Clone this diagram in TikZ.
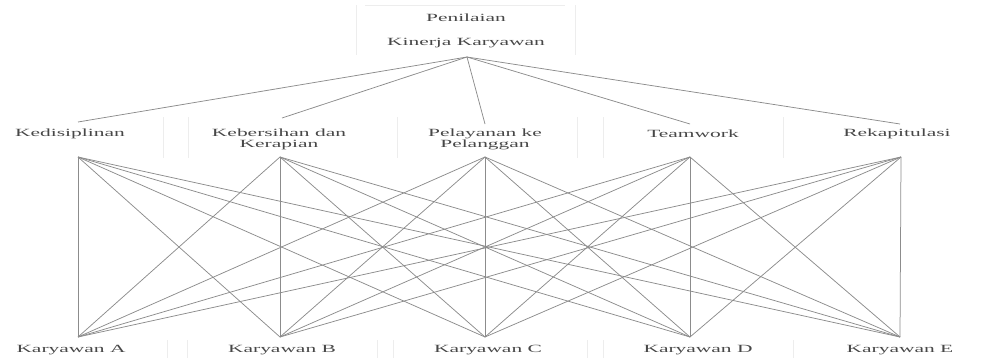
\documentclass[tikz,border=0pt]{standalone}
\usepackage{fontspec}
\setmainfont{Liberation Serif}
\usepackage{graphicx}
\newcommand{\lbl}[1]{\scalebox{1.95}[1]{#1}}
\begin{document}
\begin{tikzpicture}[x=1pt,y=-1pt,
  txt/.style={text=black!72,font=\fontsize{11}{11.5}\selectfont,inner sep=0pt,align=center},
  link/.style={draw=black!45,line width=0.75pt},
  faint/.style={draw=black!7,line width=0.8pt}]
\useasboundingbox (0,0) rectangle (987,358);
% faint cell borders
\draw[faint] (356,5) -- (356,55);
\draw[faint] (575,5) -- (575,55);
\draw[faint] (365,5) -- (565,5);
\foreach \x in {163,188,397,577,603,783}{\draw[faint] (\x,117) -- (\x,158);}
\foreach \x in {167,187,377,393,587,603,793}{\draw[faint] (\x,340) -- (\x,358);}
% labels
\node[txt] (t1) at (466,18) {\lbl{Penilaian}};
\node[txt] (t2) at (466,43) {\lbl{Kinerja Karyawan}};
\node[txt] (c1) at (70,134) {\lbl{Kedisiplinan}};
\node[txt] (c2) at (279,139.5) {\lbl{Kebersihan dan}\\\lbl{Kerapian}};
\node[txt] (c3) at (485,139.5) {\lbl{Pelayanan ke}\\\lbl{Pelanggan}};
\node[txt] (c4) at (693,134) {\lbl{Teamwork}};
\node[txt] (c5) at (897,134) {\lbl{Rekapitulasi}};
\node[txt] (e1) at (71,350) {\lbl{Karyawan A}};
\node[txt] (e2) at (282,350) {\lbl{Karyawan B}};
\node[txt] (e3) at (488,350) {\lbl{Karyawan C}};
\node[txt] (e4) at (698,350) {\lbl{Karyawan D}};
\node[txt] (e5) at (900,350) {\lbl{Karyawan E}};
% connection points
\coordinate (top) at (467,57);
\coordinate (c1t) at (78,122);
\coordinate (c2t) at (282,118);
\coordinate (c3t) at (485,124);
\coordinate (c4t) at (690,124);
\coordinate (c5t) at (900,124);
\coordinate (c1b) at (78,157);
\coordinate (c2b) at (280,157);
\coordinate (c3b) at (485,157);
\coordinate (c4b) at (690,157);
\coordinate (c5b) at (901,157);
\coordinate (e1t) at (78,337);
\coordinate (e2t) at (280,337);
\coordinate (e3t) at (485,337);
\coordinate (e4t) at (690,337);
\coordinate (e5t) at (900,337);
% connectors
\foreach \i in {1,...,5}{\draw[link] (top) -- (c\i t);}
\foreach \i in {1,...,5}{\foreach \j in {1,...,5}{\draw[link] (c\i b) -- (e\j t);}}
\end{tikzpicture}
\end{document}
